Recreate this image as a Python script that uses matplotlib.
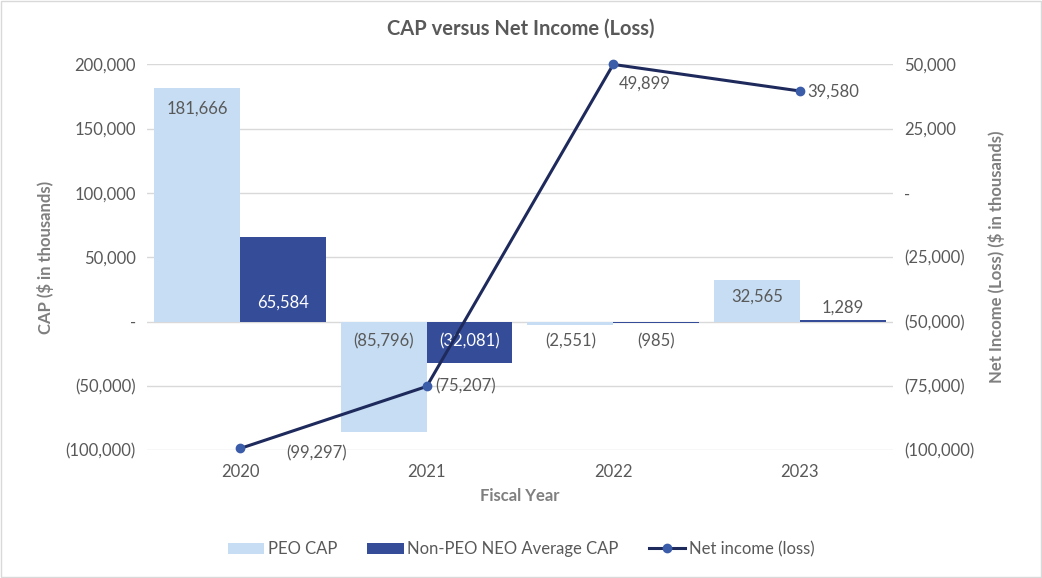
import matplotlib
matplotlib.use("Agg")
from matplotlib import pyplot as plt
from matplotlib.ticker import FuncFormatter
import numpy as np

years = ["2020", "2021", "2022", "2023"]
peo_cap = [181666, -85796, -2551, 32565]
non_peo_cap = [65584, -32081, -985, 1289]
net_income = [-99297, -75207, 49899, 39580]

light_blue = "#C6DDF3"
dark_blue = "#354C98"
line_navy = "#1F2A5C"
marker_blue = "#3B5CA8"
gray = "#595959"
label_gray = "#7F7F7F"

plt.rcParams["font.family"] = ["Lato", "DejaVu Sans"]


def fmt(v, pos=None):
    if v == 0:
        return "-"
    if v < 0:
        return "({:,.0f})".format(-v)
    return "{:,.0f}".format(v)


fig = plt.figure(figsize=(10.42, 5.78), dpi=100)
ax = fig.add_axes([0.141, 0.221, 0.716, 0.668])
ax2 = ax.twinx()

x = np.arange(len(years))
w = 0.46
b1 = ax.bar(x - w / 2, peo_cap, w, color=light_blue, label="PEO CAP", zorder=2)
b2 = ax.bar(x + w / 2, non_peo_cap, w, color=dark_blue, label="Non-PEO NEO Average CAP", zorder=2)

ax.set_xlim(-0.5, 3.5)
ax.set_ylim(-100000, 200000)
ax.set_yticks(np.arange(-100000, 200001, 50000))
ax.yaxis.set_major_formatter(FuncFormatter(fmt))
ax.grid(axis="y", color="#D9D9D9", linewidth=1, zorder=0)
ax.set_axisbelow(True)
ax.set_xticks(x)
ax.set_xticklabels(years)

ax2.set_ylim(-100000, 50000)
ax2.set_yticks(np.arange(-100000, 50001, 25000))
ax2.yaxis.set_major_formatter(FuncFormatter(fmt))
ln, = ax2.plot(x, net_income, color=line_navy, linewidth=2.2, marker="o",
               markersize=6, markerfacecolor=marker_blue, markeredgecolor=marker_blue,
               label="Net income (loss)", zorder=5, clip_on=False)

for a in (ax, ax2):
    for s in a.spines.values():
        s.set_visible(False)
    a.tick_params(length=0, labelsize=12, colors=gray, pad=8)
ax.tick_params(axis="x", pad=10)

fs = 12

# bar labels
peo_y = [peo_cap[0] - 16000, -15500, -15500, peo_cap[3] - 13000]
non_y = [15000, -15500, -15500, 10500]
non_col = ["white", "white", gray, gray]
for i in range(len(years)):
    ax.text(x[i] - w / 2, peo_y[i], fmt(peo_cap[i]), ha="center", va="center",
            fontsize=fs, color=gray, zorder=6)
    ax.text(x[i] + w / 2, non_y[i], fmt(non_peo_cap[i]), ha="center", va="center",
            fontsize=fs, color=non_col[i], zorder=6)

# line labels
ni_dx = [0.41, 0.21, 0.17, 0.18]
ni_dy = [-2000, 0, -7400, -400]
for i in range(len(years)):
    ax2.text(x[i] + ni_dx[i], net_income[i] + ni_dy[i], fmt(net_income[i]),
             ha="center", va="center", fontsize=fs, color=gray, zorder=6)

fig.suptitle("CAP versus Net Income (Loss)", x=0.5, y=0.968, fontsize=14.5,
             fontweight="bold", color=gray)
ax.set_ylabel("CAP ($ in thousands)", fontsize=12, fontweight="bold", color=label_gray, labelpad=8)
ax2.set_ylabel("Net Income (Loss) ($ in thousands)", fontsize=12, fontweight="bold",
               color=label_gray, labelpad=10)
ax.set_xlabel("Fiscal Year", fontsize=12, fontweight="bold", color=label_gray, labelpad=6)

fig.legend(handles=[b1, b2, ln], loc="lower center", bbox_to_anchor=(0.5, 0.01), ncol=3,
           frameon=False, fontsize=12, labelcolor=gray, handlelength=2.2,
           handletextpad=0.2, columnspacing=1.8)

fig.patches.append(plt.Rectangle((0.001, 0.001), 0.998, 0.997, transform=fig.transFigure,
                                 fill=False, edgecolor="#D9D9D9", linewidth=1))

fig.savefig("out.png", dpi=100)
